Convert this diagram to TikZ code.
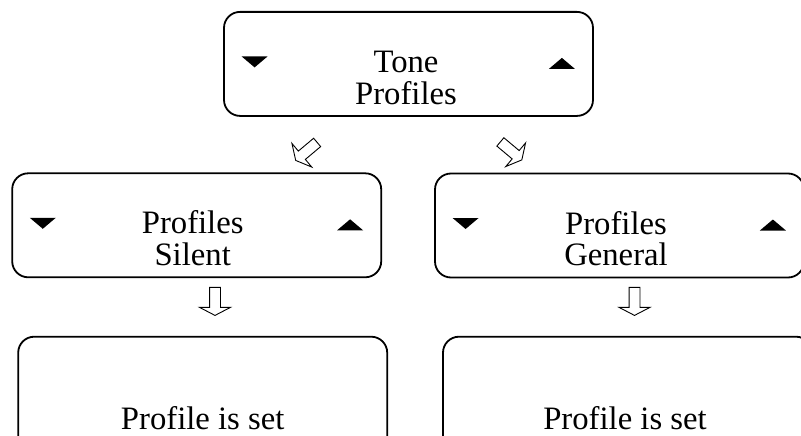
\documentclass[tikz,border=0pt]{standalone}
\usepackage{fontspec}
\setmainfont{Liberation Serif}
\usetikzlibrary{shapes.arrows}

\begin{document}
\begin{tikzpicture}[x=1pt,y=-1pt]

	\tikzset{
		menu/.style={
			draw,
			rectangle,
			rounded corners=16pt,
			line width=1.8pt,
			minimum width=369pt,
			minimum height=104pt,
			inner sep=0pt
		},
		caption/.style={
			align=center,
			inner sep=0pt,
			font=\fontsize{32.7}{31.7}\selectfont
		},
		flow/.style={
			draw,
			single arrow,
			line width=0.9pt,
			inner xsep=0pt,
			inner ysep=5pt,
			single arrow head extend=10pt,
			single arrow tip angle=125,
			minimum height=28pt
		}
	}

	\useasboundingbox (0,0) rectangle (801,436);
	\clip (0,0) rectangle (801,436);

	% MENU SCREENS
	\node[menu] (tone) at (408.5,63.9) {};
	\node[menu] (silent) at (196.7,225.3) {};
	\node[menu] (general) at (619.5,225.5) {};
	\node[menu, minimum height=130pt] (setl) at (202.7,401.7) {};
	\node[menu, minimum height=130pt] (setr) at (627.5,401.7) {};

	% SCREEN TEXTS
	\node[caption] (toneL) at ([xshift=-2.5pt,yshift=-14.4pt]tone.center) {Tone\\Profiles};
	\node[caption] (silentL) at ([xshift=-4pt,yshift=-13pt]silent.center) {Profiles\\Silent};
	\node[caption] (generalL) at ([xshift=-3.5pt,yshift=-13pt]general.center) {Profiles\\General};
	\node[caption, anchor=base] (setlL) at ([yshift=-93.3pt]setl.north) {Profile is set};
	\node[caption, anchor=base] (setrL) at ([xshift=-2.5pt,yshift=-93.3pt]setr.north) {Profile is set};

	% SCROLL MARKS
	\foreach \b in {tone,silent,general} {
		\fill ([xshift=18.5pt,yshift=7.5pt]\b.west) -- ++(26,0) -- ++(-13,11) -- cycle;
		\fill ([xshift=-45pt,yshift=-5pt]\b.east) -- ++(26,0) -- ++(-13,-11) -- cycle;
	}

	% FLOW ARROWS
	\node[flow, rotate=-140] (toSilent) at (307.5,150.5) {};
	\node[flow, rotate=-40] (toGeneral) at (510,150) {};
	\node[flow, rotate=-90] (toSetl) at (215,300) {};
	\node[flow, rotate=-90] (toSetr) at (634.5,300) {};

\end{tikzpicture}
\end{document}
